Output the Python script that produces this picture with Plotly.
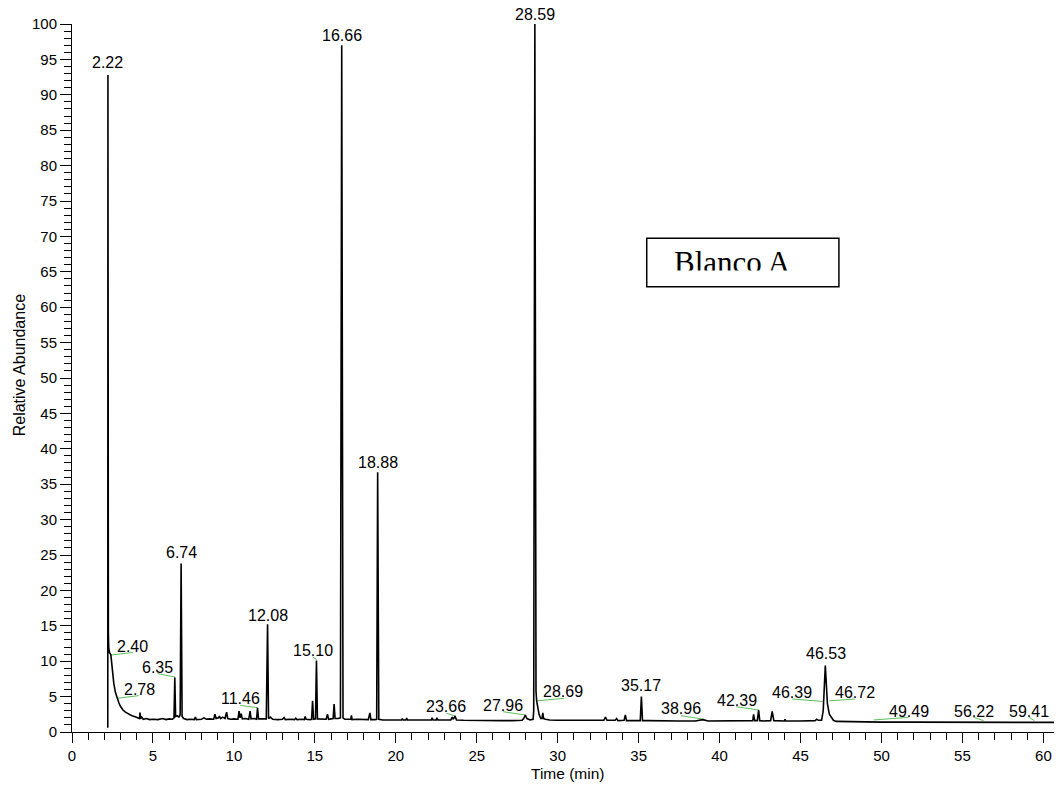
import plotly.graph_objects as go

# Chromatogram trace (time in min, relative abundance %)
time_min = [2.21, 2.22, 2.23, 2.245, 2.27, 2.32, 2.40, 2.45, 2.50, 2.58, 2.68, 2.78, 2.90, 3.00, 3.15, 3.30,
            3.50, 3.70, 3.90, 4.10, 4.17, 4.20, 4.24, 4.30, 4.40, 4.60, 4.80, 5.00, 5.30, 5.60, 5.80, 6.00,
            6.20, 6.30, 6.35, 6.40, 6.50, 6.60, 6.68, 6.74, 6.80, 6.90, 7.10, 7.30, 7.55, 7.62, 7.68, 8.00,
            8.15, 8.30, 8.50, 8.75, 8.83, 8.90, 9.05, 9.10, 9.18, 9.30, 9.45, 9.55, 9.62, 9.80, 10.00, 10.25,
            10.32, 10.38, 10.45, 10.52, 10.70, 10.92, 11.00, 11.06, 11.25, 11.40, 11.46, 11.52, 11.80, 12.00,
            12.08, 12.14, 12.25, 12.40, 12.70, 13.00, 13.10, 13.18, 13.50, 13.75, 13.82, 13.90, 14.20, 14.35,
            14.40, 14.46, 14.70, 14.80, 14.86, 14.92, 15.04, 15.10, 15.16, 15.40, 15.70, 15.78, 15.85, 16.00,
            16.13, 16.19, 16.25, 16.45, 16.58, 16.66, 16.74, 16.85, 17.10, 17.22, 17.26, 17.30, 17.60, 18.00,
            18.30, 18.40, 18.46, 18.70, 18.82, 18.88, 18.95, 19.20, 19.60, 20.00, 20.35, 20.40, 20.45, 20.62,
            20.67, 20.72, 21.00, 21.50, 22.00, 22.20, 22.24, 22.30, 22.50, 22.54, 22.60, 23.00, 23.40, 23.49,
            23.56, 23.66, 23.75, 24.20, 25.00, 25.80, 26.50, 27.20, 27.80, 27.90, 28.00, 28.10, 28.30, 28.48,
            28.52, 28.59, 28.63, 28.66, 28.70, 28.76, 28.85, 28.95, 29.03, 29.08, 29.13, 29.25, 29.50, 30.00,
            31.00, 32.00, 32.85, 32.95, 33.05, 33.55, 33.64, 33.72, 34.10, 34.18, 34.25, 34.80, 35.10, 35.17,
            35.24, 35.60, 36.50, 37.50, 38.50, 38.96, 39.30, 40.00, 41.00, 41.90, 42.05, 42.10, 42.17, 42.33,
            42.41, 42.48, 42.70, 43.15, 43.25, 43.35, 43.70, 44.00, 44.04, 44.08, 45.00, 45.90, 46.00, 46.10,
            46.30, 46.40, 46.53, 46.66, 46.78, 46.90, 46.97, 47.03, 47.20, 48.00, 49.00, 50.00, 52.00, 54.00,
            56.00, 58.00, 60.00, 61.15]
abundance = [0.6, 92.8, 26.3, 14.0, 11.8, 11.2, 10.9, 9.6, 8.3, 6.9, 5.6, 4.8, 4.1, 3.6, 3.1, 2.8,
             2.5, 2.3, 2.15, 2.0, 1.9, 2.75, 1.9, 2.1, 1.8, 1.9, 1.75, 1.8, 1.75, 1.9, 1.75, 1.85,
             1.8, 2.0, 7.7, 2.2, 2.3, 2.1, 2.4, 23.8, 2.2, 1.9, 1.75, 1.8, 1.75, 2.1, 1.75, 1.8,
             2.0, 1.8, 1.85, 1.8, 2.5, 1.9, 2.0, 2.25, 1.9, 2.1, 1.9, 2.8, 1.9, 1.8, 1.85, 1.8,
             2.95, 2.0, 2.6, 1.85, 1.9, 1.8, 2.95, 1.85, 1.9, 1.8, 3.4, 1.85, 1.8, 1.85,
             15.2, 1.9, 2.1, 1.8, 1.75, 1.8, 2.05, 1.75, 1.8, 1.75, 1.95, 1.75, 1.8, 1.75,
             2.2, 1.8, 1.75, 1.8, 4.4, 1.8, 1.85, 10.1, 1.85, 1.8, 1.8, 2.5, 1.8, 1.85,
             1.9, 3.95, 1.9, 1.9, 2.0, 97.0, 2.0, 1.8, 1.75, 1.8, 2.35, 1.75, 1.8, 1.75,
             1.75, 2.7, 1.75, 1.75, 1.8, 36.7, 1.8, 1.7, 1.7, 1.65, 1.7, 1.9, 1.7, 1.7,
             1.95, 1.7, 1.7, 1.65, 1.7, 1.7, 2.0, 1.7, 1.7, 2.0, 1.7, 1.65, 1.7, 2.1,
             1.8, 2.25, 1.7, 1.65, 1.6, 1.65, 1.6, 1.6, 1.65, 1.9, 2.4, 1.9, 1.7, 1.8,
             3.0, 100.0, 9.0, 5.8, 4.4, 3.5, 2.5, 1.9, 1.9, 2.7, 1.9, 1.8, 1.7, 1.65,
             1.65, 1.6, 1.65, 2.1, 1.65, 1.65, 1.9, 1.6, 1.65, 2.4, 1.6, 1.6, 1.6, 5.0,
             1.6, 1.6, 1.55, 1.55, 1.55, 1.75, 1.55, 1.55, 1.55, 1.55, 1.6, 2.5, 1.6, 1.6,
             3.1, 1.6, 1.55, 1.6, 2.9, 1.6, 1.55, 1.55, 1.8, 1.55, 1.55, 1.6, 1.8, 1.65,
             1.65, 3.0, 9.4, 4.0, 2.5, 2.0, 1.9, 1.65, 1.5, 1.45, 1.45, 1.4, 1.4, 1.4,
             1.35, 1.35, 1.35, 1.35]

# Peak labels: text and label centre (time, abundance)
label_text = ["2.22", "2.40", "2.78", "6.35", "6.74", "11.46", "12.08", "15.10", "16.66", "18.88",
              "23.66", "27.96", "28.59", "28.69", "35.17", "38.96", "42.39", "46.39", "46.53", "46.72",
              "49.49", "56.22", "59.41"]
label_x = [2.22, 3.74, 4.15, 5.28, 6.74, 10.42, 12.08, 14.87, 16.66, 18.90,
           23.12, 26.61, 28.59, 30.31, 35.15, 37.61, 41.07, 44.49, 46.55, 48.37,
           51.68, 55.69, 59.13]
label_y = [94.5, 12.1, 5.95, 9.05, 25.4, 4.67, 16.5, 11.57, 98.4, 38.0,
           3.63, 3.73, 101.4, 5.69, 6.5, 3.25, 4.48, 5.6, 11.1, 5.6,
           2.95, 2.95, 2.95]

# Green leader lines (start time, start abundance, end time, end abundance)
leader_x0 = [2.37, 2.78, 5.29, 10.39, 14.86, 23.12, 26.61, 28.70, 37.61, 41.04, 44.49, 46.78, 49.52, 55.69, 59.13]
leader_y0 = [10.86, 4.76, 8.24, 3.76, 10.6, 2.64, 2.87, 4.4, 2.3, 3.57, 4.66, 4.4, 1.7, 2.07, 2.07]
leader_x1 = [3.77, 4.12, 6.38, 11.48, 15.12, 23.69, 28.01, 30.37, 39.04, 42.43, 46.45, 48.37, 51.68, 56.31, 59.44]
leader_y1 = [11.24, 5.14, 7.76, 3.43, 10.24, 2.26, 2.4, 4.75, 1.8, 3.1, 4.3, 4.66, 2.07, 1.6, 1.6]

Y_MAX = 100.0
sans = "Liberation Sans, Arial, sans-serif"

fig = go.Figure()

lx, ly = [], []
for a, b, c, d in zip(leader_x0, leader_y0, leader_x1, leader_y1):
    lx += [a, c, None]
    ly += [b, d, None]
fig.add_trace(go.Scatter(x=lx, y=ly, mode="lines", line=dict(color="#5cbf5c", width=1),
                         hoverinfo="skip", showlegend=False, cliponaxis=False))

fig.add_trace(go.Scatter(x=time_min, y=abundance, mode="lines",
                         line=dict(color="black", width=1.6), showlegend=False))

for t, x, y in zip(label_text, label_x, label_y):
    fig.add_annotation(x=x, xref="x", y=y / Y_MAX, yref="paper", text=t, showarrow=False,
                       xanchor="center", yanchor="middle",
                       font=dict(family=sans, size=16, color="black"))

# "Blanco A" box
fig.add_shape(type="rect", x0=35.5, x1=47.37, y0=62.9, y1=69.75,
              line=dict(color="black", width=1.5), fillcolor="white", layer="above")
fig.add_annotation(x=37.07, y=66.3, text="Blanco A", showarrow=False, xanchor="left", yanchor="middle",
                   font=dict(family="Liberation Serif, Times New Roman, serif", size=31, color="black"))
# cover the lower part of the text (clipped look)
fig.add_annotation(x=41.45, y=64.2, text=" ", showarrow=False, xanchor="center", yanchor="middle",
                   width=178, height=13, bgcolor="white", borderpad=0,
                   font=dict(size=8))

# Axis titles
fig.add_annotation(xref="paper", yref="paper", x=-0.0535, y=0.518, text="Relative Abundance",
                   textangle=-90, showarrow=False, xanchor="center", yanchor="middle",
                   font=dict(family=sans, size=16, color="black"))
fig.add_annotation(xref="paper", yref="paper", x=0.5, y=-0.058, text="Time (min)",
                   showarrow=False, xanchor="center", yanchor="middle",
                   font=dict(family=sans, size=15.5, color="black"))

# page body has an 8px margin (top/left), so the figure is 8px smaller and margins reduced accordingly
fig.update_layout(
    width=1054, height=779,
    margin=dict(l=64, r=0, t=16, b=55),
    paper_bgcolor="white", plot_bgcolor="white",
    xaxis=dict(range=[0, 61.15], tickmode="linear", tick0=0, dtick=5, ticks="outside", ticklen=10,
               tickwidth=1, tickcolor="black", showline=True, linecolor="black", linewidth=1,
               showgrid=False, zeroline=False,
               tickfont=dict(family=sans, size=15, color="black"),
               minor=dict(dtick=1, ticks="outside", ticklen=7, tickcolor="black", showgrid=False)),
    yaxis=dict(range=[0, Y_MAX], tickmode="linear", tick0=0, dtick=5, ticks="outside", ticklen=11,
               tickwidth=1, tickcolor="black", showline=True, linecolor="black", linewidth=1,
               showgrid=False, zeroline=False,
               tickfont=dict(family=sans, size=15, color="black"),
               minor=dict(dtick=1, ticks="outside", ticklen=7, tickcolor="black", showgrid=False)),
)

fig.write_html("out.html")
